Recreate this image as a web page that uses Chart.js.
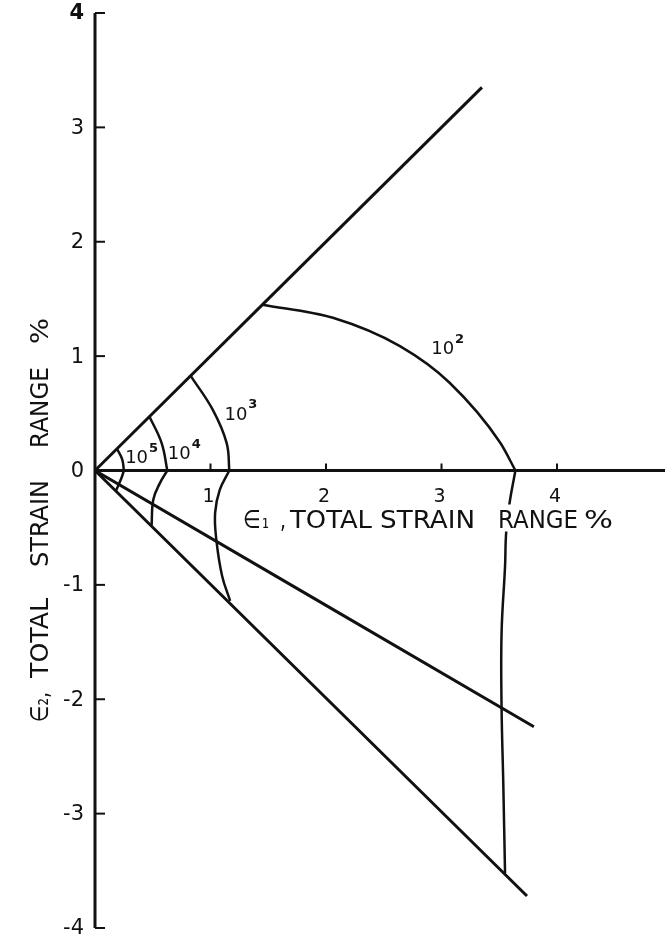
<!DOCTYPE html>
<html>
<head>
<meta charset="utf-8">
<script src="https://cdn.jsdelivr.net/npm/chart.js@4.4.0/dist/chart.umd.min.js"></script>
<style>
  html, body { margin: 0; padding: 0; background: #fff; }
  #wrap { width: 667px; height: 939px; position: relative; }
</style>
</head>
<body>
<div id="wrap"><canvas id="strainChart"></canvas></div>
<script>
// axis ticks
const xTicks = [1, 2, 3, 4];
const xTickLabels = ['1', '2', '3', '4'];
const yTicks = [-4, -3, -2, -1, 0, 1, 2, 3, 4];
const yTickLabels = ['-4', '-3', '-2', '-1', '0', '1', '2', '3', '4'];

// straight strain paths from the origin
const pathUpper = [{ x: 0, y: 0 }, { x: 3.35, y: 3.35 }];
const pathMiddle = [{ x: 0, y: 0 }, { x: 3.80, y: -2.24 }];
const pathLower = [{ x: 0, y: 0 }, { x: 3.74, y: -3.72 }];

// constant life curves (above / below the e1 axis)
const life1e5Upper = [{ x: 0.19, y: 0.19 }, { x: 0.236, y: 0.096 }, { x: 0.25, y: 0 }];
const life1e5Lower = [{ x: 0.25, y: 0 }, { x: 0.23, y: -0.064 }, { x: 0.18, y: -0.18 }];
const life1e4Upper = [{ x: 0.47, y: 0.475 }, { x: 0.577, y: 0.24 }, { x: 0.626, y: 0 }];
const life1e4Lower = [{ x: 0.626, y: 0 }, { x: 0.563, y: -0.108 }, { x: 0.505, y: -0.253 }, { x: 0.49, y: -0.48 }];
const life1e3Upper = [{ x: 0.83, y: 0.825 }, { x: 1.02, y: 0.53 }, { x: 1.14, y: 0.24 }, { x: 1.163, y: 0 }];
const life1e3Lower = [{ x: 1.163, y: 0 }, { x: 1.08, y: -0.17 }, { x: 1.04, y: -0.37 }, { x: 1.05, y: -0.60 },
                      { x: 1.10, y: -0.92 }, { x: 1.17, y: -1.14 }];
const life1e2Upper = [{ x: 1.45, y: 1.45 }, { x: 2.06, y: 1.335 }, { x: 2.64, y: 1.087 }, { x: 3.07, y: 0.767 },
                      { x: 3.51, y: 0.24 }, { x: 3.64, y: 0 }];
const life1e2Lower = [{ x: 3.64, y: 0 }, { x: 3.59, y: -0.28 }, { x: 3.56, y: -0.54 }, { x: 3.55, y: -0.84 },
                      { x: 3.52, y: -1.42 }, { x: 3.52, y: -2.07 }, { x: 3.535, y: -2.74 }, { x: 3.55, y: -3.52 }];

// curve labels: cycles to failure
const lifeLabels = [
    { sup: '5', x: 0.36, y: 0.105 },
    { sup: '4', x: 0.73, y: 0.14 },
    { sup: '3', x: 1.22, y: 0.485 },
    { sup: '2', x: 3.01, y: 1.06 }
];

const FONT = '"DejaVu Sans", sans-serif';
const INK = '#111';

function lineSet(data, width, mode) {
    return {
        data: data,
        showLine: true,
        borderColor: INK,
        borderWidth: width,
        pointRadius: 0,
        tension: 0.4,
        cubicInterpolationMode: mode || 'default',
        fill: false
    };
}

// text squeezed/stretched to the width the lettering has in the original
function fitText(ctx, text, x, y, width) {
    const w = ctx.measureText(text).width;
    ctx.save();
    ctx.translate(x, y);
    ctx.scale(width / w, 1);
    ctx.fillText(text, 0, 0);
    ctx.restore();
}

// draws axes, ticks, labels and titles on top of the datasets
const axesPlugin = {
    id: 'strainAxes',
    afterDatasetsDraw(chart) {
        const ctx = chart.ctx;
        const xs = chart.scales.x;
        const ys = chart.scales.y;
        const x0 = xs.getPixelForValue(0);
        const y0 = ys.getPixelForValue(0);
        ctx.save();
        ctx.strokeStyle = INK;
        ctx.fillStyle = INK;

        // e2 axis with ticks pointing right
        ctx.lineWidth = 3;
        ctx.beginPath();
        ctx.moveTo(x0, ys.getPixelForValue(4));
        ctx.lineTo(x0, ys.getPixelForValue(-4));
        ctx.stroke();
        ctx.lineWidth = 2;
        yTicks.forEach(v => {
            const py = ys.getPixelForValue(v);
            ctx.beginPath();
            ctx.moveTo(x0, py);
            ctx.lineTo(x0 + 10, py);
            ctx.stroke();
        });

        // e1 axis with ticks pointing up
        ctx.lineWidth = 3;
        ctx.beginPath();
        ctx.moveTo(x0, y0);
        ctx.lineTo(xs.right, y0);
        ctx.stroke();
        ctx.lineWidth = 2;
        xTicks.forEach(v => {
            const px = xs.getPixelForValue(v);
            ctx.beginPath();
            ctx.moveTo(px, y0);
            ctx.lineTo(px, y0 - 7);
            ctx.stroke();
        });

        // tick labels
        ctx.font = '21px ' + FONT;
        ctx.textAlign = 'right';
        ctx.textBaseline = 'middle';
        yTicks.forEach((v, i) => {
            ctx.font = (v === 4 ? 'bold ' : '') + '21px ' + FONT;
            ctx.fillText(yTickLabels[i], x0 - 11, ys.getPixelForValue(v) + 1);
        });
        ctx.font = '19px ' + FONT;
        ctx.textAlign = 'center';
        xTicks.forEach((v, i) => {
            ctx.fillText(xTickLabels[i], xs.getPixelForValue(v) - 2, y0 + 27);
        });

        // curve labels 10^n
        lifeLabels.forEach(l => {
            const px = xs.getPixelForValue(l.x);
            const py = ys.getPixelForValue(l.y);
            ctx.font = '18px ' + FONT;
            ctx.textAlign = 'center';
            ctx.textBaseline = 'middle';
            const w = ctx.measureText('10').width;
            ctx.fillText('10', px, py);
            ctx.font = 'bold 13px ' + FONT;
            ctx.textAlign = 'left';
            ctx.fillText(l.sup, px + w / 2 + 1, py - 10);
        });

        // e1 axis title, words on a white ground (cuts the 10^2 curve like the original)
        ctx.font = '25px ' + FONT;
        ctx.textAlign = 'left';
        ctx.textBaseline = 'alphabetic';
        const base = y0 + 57;
        [['∈', 243, 18], ['₁', 262, 7], [',', 280, 6], ['TOTAL', 290, 82], ['STRAIN', 380, 95],
         ['RANGE', 498, 80], ['%', 584, 29]].forEach(([t, px, w]) => {
            ctx.fillStyle = '#fff';
            ctx.fillRect(px - 3, base - 23, w + 6, 27);
            ctx.fillStyle = INK;
            fitText(ctx, t, px, base, w);
        });

        // e2 axis title, rotated (positions are the word starts along the axis, bottom up)
        ctx.save();
        ctx.translate(48, 0);
        ctx.rotate(-Math.PI / 2);
        [['∈₂,', 722, 30], ['TOTAL', 678, 80], ['STRAIN', 567, 87], ['RANGE', 448, 81], ['%', 344, 26]].forEach(([t, py, w]) => {
            fitText(ctx, t, -py, 0, w);
        });
        ctx.restore();

        ctx.restore();
    }
};

new Chart(document.getElementById('strainChart'), {
    type: 'scatter',
    data: {
        datasets: [
            lineSet(pathUpper, 3),
            lineSet(pathMiddle, 3),
            lineSet(pathLower, 3),
            lineSet(life1e5Upper, 2.5),
            lineSet(life1e5Lower, 2.5),
            lineSet(life1e4Upper, 2.5),
            lineSet(life1e4Lower, 2.5),
            lineSet(life1e3Upper, 2.5),
            lineSet(life1e3Lower, 2.5),
            lineSet(life1e2Upper, 2.5, 'monotone'),
            lineSet(life1e2Lower, 2.5)
        ]
    },
    options: {
        responsive: true,
        maintainAspectRatio: false,
        animation: false,
        layout: { padding: { left: 95, right: 2, top: 13, bottom: 11 } },
        plugins: {
            legend: { display: false },
            tooltip: { enabled: false }
        },
        scales: {
            x: { type: 'linear', min: 0, max: 4.935, display: false },
            y: { type: 'linear', min: -4, max: 4, display: false }
        }
    },
    plugins: [axesPlugin]
});
</script>
</body>
</html>
